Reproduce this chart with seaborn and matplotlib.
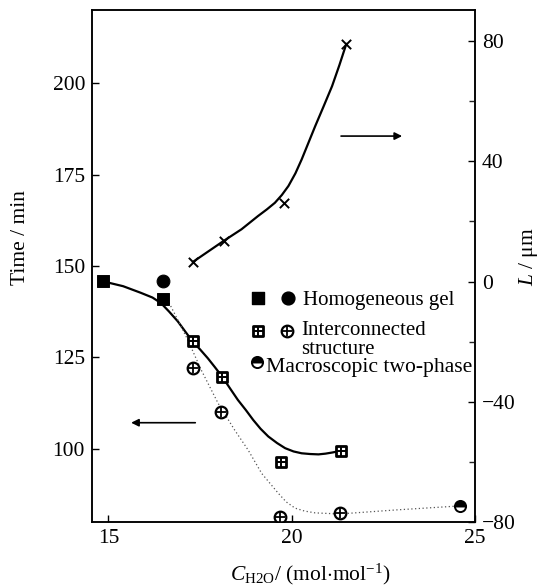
import matplotlib
matplotlib.use("Agg")
import matplotlib.pyplot as plt
import seaborn as sns
import numpy as np

# ---------------- data ----------------
homog_sq_x = [14.85, 16.5]
homog_sq_y = [145.8, 141.1]
homog_ci_x = [16.5]
homog_ci_y = [145.8]

inter_sq_x = [17.3, 18.1, 19.7, 21.35]
inter_sq_y = [129.6, 119.7, 96.4, 99.5]
inter_ci_x = [17.3, 18.08, 19.67, 21.32]
inter_ci_y = [122.2, 110.1, 81.4, 82.5]

macro_x = [24.58]
macro_y = [84.4]

# guide curve for time (solid), read from the drawn fit
solid_x = [14.86, 15.4, 15.88, 16.2, 16.43, 16.65, 16.89, 17.08, 17.28, 17.5, 17.71, 17.9,
           18.1, 18.32, 18.53, 18.75, 18.95, 19.15, 19.36, 19.6, 19.82, 20.05, 20.27,
           20.5, 20.73, 20.92, 21.1, 21.35]
solid_y = [145.8, 144.5, 142.7, 141.4, 139.9, 137.6, 134.9, 132.3, 129.6, 127.2, 124.8, 122.4,
           119.8, 116.5, 113.4, 110.6, 107.9, 105.5, 103.4, 101.6, 100.2, 99.3, 98.8,
           98.6, 98.5, 98.7, 99.0, 99.5]

# dotted guide curve, read from the drawn fit
dot_x = [16.5, 16.61, 16.89, 17.16, 17.53, 17.99, 18.44, 18.81, 19.18, 19.63,
         19.85, 20.09, 20.35, 20.64, 21.3, 22.84, 24.58]
dot_y = [141.1, 140.8, 135.3, 129.9, 121.6, 112.5, 105.2, 99.7, 93.3, 87.9,
         85.5, 83.8, 83.0, 82.5, 82.2, 83.3, 84.4]

# L (right axis)
L_x = [17.3, 18.14, 19.8, 21.49]
L_y = [6.5, 13.5, 26.2, 79.1]
L_curve_x = [17.3, 17.72, 18.14, 18.63, 19.08, 19.32, 19.54, 19.73, 19.91, 20.1, 20.27,
             20.45, 20.64, 20.87, 21.1, 21.3, 21.49]
L_curve_y = [6.5, 10.0, 13.5, 17.4, 21.8, 24.0, 26.2, 28.8, 31.8, 36.0, 40.6,
             46.0, 51.7, 58.3, 65.0, 72.0, 79.1]

x_ticks = [15, 20, 25]
y_ticks = [100, 125, 150, 175, 200]
y2_ticks = [-80, -40, 0, 40, 80]
y2_minor = [-60, -20, 20, 60]

legend_labels = ["Homogeneous gel", "Interconnected", "structure", "Macroscopic two-phase"]

# ---------------- style ----------------
sns.set_theme(style="ticks")
plt.rcParams["font.family"] = ["Liberation Serif", "DejaVu Serif"]
plt.rcParams["mathtext.fontset"] = "custom"
plt.rcParams["mathtext.rm"] = "Liberation Serif"
plt.rcParams["mathtext.it"] = "Liberation Serif:italic"
plt.rcParams["axes.linewidth"] = 1.1
FS = 15.5

fig = plt.figure(figsize=(5.41, 5.87), dpi=100)
ax = fig.add_axes([0.170, 0.1107, 0.708, 0.872])
ax2 = ax.twinx()

K = "black"

# curves
sns.lineplot(x=solid_x, y=solid_y, ax=ax, color=K, lw=1.6, sort=False, estimator=None)
sns.lineplot(x=dot_x, y=dot_y, ax=ax, color="#555555", lw=0.9, sort=False,
             estimator=None, linestyle=(0, (1, 2.0)))
sns.lineplot(x=L_curve_x, y=L_curve_y, ax=ax2, color=K, lw=1.6, sort=False, estimator=None)

# markers
def crossed_square(a, x, y):
    sns.scatterplot(x=x, y=y, ax=a, marker="s", s=62, color="white",
                    edgecolor=K, linewidth=2.0, zorder=5)
    sns.scatterplot(x=x, y=y, ax=a, marker="+", s=50, color=K, linewidth=1.4, zorder=6)

def crossed_circle(a, x, y):
    sns.scatterplot(x=x, y=y, ax=a, marker="o", s=70, color="white",
                    edgecolor=K, linewidth=1.6, zorder=5)
    sns.scatterplot(x=x, y=y, ax=a, marker="+", s=60, color=K, linewidth=1.3, zorder=6)

sns.scatterplot(x=homog_sq_x, y=homog_sq_y, ax=ax, marker="s", s=70, color=K,
                edgecolor=K, zorder=5)
sns.scatterplot(x=homog_ci_x, y=homog_ci_y, ax=ax, marker="o", s=85, color=K,
                edgecolor=K, zorder=5)
crossed_square(ax, inter_sq_x, inter_sq_y)
crossed_circle(ax, inter_ci_x, inter_ci_y)
ax.plot(macro_x, macro_y, marker="o", ms=8, color=K, fillstyle="top",
        markerfacecoloralt="white", mec=K, mew=1.4, ls="none", zorder=5)

sns.scatterplot(x=L_x, y=L_y, ax=ax2, marker="x", s=45, color=K, linewidth=1.4, zorder=6)

# ---------------- axes ----------------
ax.set_xlim(14.55, 25.0)
ax.set_ylim(80, 220)
ax2.set_ylim(-80, 90.3)
ax.set_xticks(x_ticks)
ax.set_yticks(y_ticks)
ax2.set_yticks(y2_ticks)
ax2.set_yticks(y2_minor, minor=True)

ax.tick_params(axis="both", direction="in", length=5, width=1.0, labelsize=FS, pad=5,
               top=False, right=False, colors=K)
ax2.tick_params(axis="y", which="major", direction="in", length=5, width=1.0,
                labelsize=FS, pad=5, colors=K)
ax2.tick_params(axis="y", which="minor", direction="in", length=4, width=1.0)
for a in (ax, ax2):
    for sp in a.spines.values():
        sp.set_visible(True)
        sp.set_color(K)
        sp.set_linewidth(1.1)

ax.set_xlabel(r"$C_{\mathrm{H2O}}$/ (mol$\cdot$mol$^{-1}$)", fontsize=FS, color=K)
ax.xaxis.set_label_coords(0.569, -0.078)
ax.set_ylabel("Time / min", fontsize=FS, color=K)
ax.yaxis.set_label_coords(-0.162, 0.556)
ax2.set_ylabel(r"$L$ / μm", fontsize=FS, color=K)
ax2.yaxis.set_label_coords(1.11, 0.518)

# ---------------- in-plot legend ----------------
T = ax.transAxes
def lg_marker(x, y, **kw):
    ax.scatter([x], [y], transform=T, clip_on=False, **kw)

lg_marker(0.434, 0.437, marker="s", s=70, color=K, zorder=7)
lg_marker(0.513, 0.437, marker="o", s=85, color=K, zorder=7)
lg_marker(0.434, 0.374, marker="s", s=62, facecolor="white", edgecolor=K, linewidth=2.0, zorder=7)
lg_marker(0.434, 0.374, marker="+", s=50, color=K, linewidth=1.4, zorder=8)
lg_marker(0.508, 0.374, marker="o", s=70, facecolor="white", edgecolor=K, linewidth=1.6, zorder=7)
lg_marker(0.508, 0.374, marker="+", s=60, color=K, linewidth=1.3, zorder=8)
ax.plot([0.430], [0.313], transform=T, marker="o", ms=8, color=K, fillstyle="top",
        markerfacecoloralt="white", mec=K, mew=1.4, ls="none", zorder=7, clip_on=False)

ax.text(0.552, 0.424, legend_labels[0], transform=T, fontsize=15, va="baseline", ha="left", color=K)
ax.text(0.547, 0.365, legend_labels[1], transform=T, fontsize=15, va="baseline", ha="left", color=K)
ax.text(0.547, 0.329, legend_labels[2], transform=T, fontsize=15, va="baseline", ha="left", color=K)
ax.text(0.455, 0.294, legend_labels[3], transform=T, fontsize=15.6, va="baseline", ha="left", color=K)

# arrows
ax.annotate("", xy=(0.095, 0.194), xytext=(0.277, 0.194), xycoords="axes fraction",
            arrowprops=dict(arrowstyle="-|>", lw=1.2, color=K, mutation_scale=11))
ax.annotate("", xy=(0.817, 0.754), xytext=(0.643, 0.754), xycoords="axes fraction",
            arrowprops=dict(arrowstyle="-|>", lw=1.2, color=K, mutation_scale=11))

fig.savefig("out.png", dpi=100)
